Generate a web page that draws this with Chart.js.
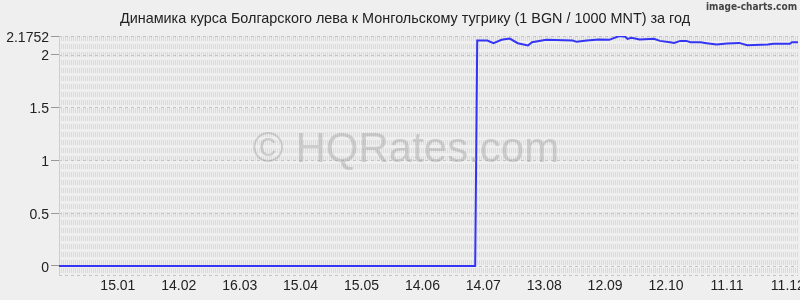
<!DOCTYPE html>
<html>
<head>
<meta charset="utf-8">
<script src="https://cdn.jsdelivr.net/npm/chart.js@4/dist/chart.umd.min.js"></script>
<style>
html,body{margin:0;padding:0;background:#efefef;}
#wrap{width:800px;height:300px;position:relative;}
</style>
</head>
<body>
<div id="wrap"><canvas id="c" width="800" height="300"></canvas></div>
<script>
// Title and tick labels
const titleText = "Динамика курса Болгарского лева к Монгольскому тугрику (1 BGN / 1000 MNT) за год";
const xTickDays = [29, 59, 89, 119, 149, 179, 209, 239, 269, 299, 329, 359];
const xTickLabels = ["15.01", "14.02", "16.03", "15.04", "15.05", "14.06", "14.07", "13.08", "12.09", "12.10", "11.11", "11.12"];
const yTickValues = [0, 0.5, 1, 1.5, 2, 2.1752];

// Series: day offset from 17.12 (start of period) and rate values
const days = [0, 100, 205, 206, 211, 214, 218, 222, 226, 231, 233, 240, 253, 255, 260, 266, 271, 276, 279, 280, 282, 286, 293, 296, 301, 303, 306, 309, 311, 316, 319, 324, 329, 335, 339, 349, 352, 360, 361, 364];
const rates = [0, 0, 0, 2.132, 2.132, 2.107, 2.139, 2.151, 2.107, 2.085, 2.116, 2.139, 2.132, 2.120, 2.132, 2.142, 2.139, 2.1752, 2.167, 2.148, 2.158, 2.142, 2.148, 2.129, 2.116, 2.110, 2.129, 2.129, 2.116, 2.116, 2.107, 2.094, 2.104, 2.110, 2.088, 2.094, 2.101, 2.101, 2.116, 2.116];

const FONT = "'Liberation Sans', Arial, sans-serif";

const bgPlugin = {
  id: 'bg',
  beforeDraw(chart) {
    const ctx = chart.ctx;
    ctx.save();
    ctx.fillStyle = '#efefef';
    ctx.fillRect(0, 0, chart.width, chart.height);
    ctx.restore();
  },
  beforeDatasetsDraw(chart) {
    const ctx = chart.ctx;
    const a = chart.chartArea;
    ctx.save();
    // dense vertical dashed texture
    ctx.strokeStyle = '#dadada';
    ctx.lineWidth = 1;
    ctx.setLineDash([5, 3]);
    ctx.beginPath();
    for (let x = Math.round(a.left) + 0.5; x < a.right; x += 2) {
      ctx.moveTo(x, a.top);
      ctx.lineTo(x, a.bottom - 3);
    }
    ctx.stroke();
    // dashed horizontal lines at y ticks
    ctx.strokeStyle = '#c4c4c4';
    ctx.setLineDash([3, 3]);
    ctx.beginPath();
    const ys = chart.scales.y;
    yTickValues.forEach(v => {
      const y = Math.round(ys.getPixelForValue(v)) + 0.5;
      ctx.moveTo(a.left, y);
      ctx.lineTo(a.right, y);
    });
    const yb = Math.round(a.bottom) - 0.5;
    ctx.moveTo(a.left, yb);
    ctx.lineTo(a.right, yb);
    ctx.stroke();
    // left border
    ctx.setLineDash([]);
    ctx.strokeStyle = '#cfcfcf';
    ctx.beginPath();
    ctx.moveTo(Math.round(a.left) + 0.5, a.top);
    ctx.lineTo(Math.round(a.left) + 0.5, a.bottom);
    ctx.stroke();
    ctx.restore();
  },
  afterDatasetsDraw(chart) {
    const ctx = chart.ctx;
    ctx.save();
    // watermark
    ctx.fillStyle = 'rgba(150,150,150,0.38)';
    ctx.font = "42px " + FONT;
    ctx.textAlign = 'center';
    ctx.textBaseline = 'middle';
    ctx.fillText("© HQRates.com", 406, 150);
    // title
    ctx.fillStyle = '#222';
    ctx.font = "14.4px " + FONT;
    ctx.fillText(titleText, 405, 19);
    // brand
    ctx.fillStyle = '#444';
    ctx.font = "bold 10px 'Liberation Sans Narrow', 'DejaVu Sans Condensed', sans-serif";
    ctx.textAlign = 'right';
    ctx.fillText("image-charts.com", 797, 7);
    ctx.restore();
  }
};

new Chart(document.getElementById('c'), {
  type: 'line',
  data: {
    datasets: [{
      data: days.map((d, i) => ({ x: d, y: rates[i] })),
      borderColor: '#3434f4',
      borderWidth: 2,
      pointRadius: 0,
      tension: 0,
      fill: false
    }]
  },
  options: {
    responsive: false,
    animation: false,
    layout: { padding: { top: 36, left: 0, right: 2, bottom: 0 } },
    plugins: { legend: { display: false }, title: { display: false }, tooltip: { enabled: false } },
    scales: {
      x: {
        type: 'linear',
        min: 0,
        max: 364,
        afterBuildTicks(scale) { scale.ticks = xTickDays.map(v => ({ value: v })); },
        afterFit(scale) { scale.height = 24; scale.paddingLeft = 0; scale.paddingRight = 0; },
        ticks: {
          autoSkip: false,
          maxRotation: 0,
          padding: 2,
          color: '#222',
          font: { family: FONT, size: 14 },
          callback(v) { const i = xTickDays.indexOf(v); return i >= 0 ? xTickLabels[i] : ''; }
        },
        grid: { display: false, drawTicks: false, tickLength: 0 },
        border: { display: false }
      },
      y: {
        type: 'linear',
        min: -0.095,
        max: 2.1752,
        afterBuildTicks(scale) { scale.ticks = yTickValues.map(v => ({ value: v })); },
        afterFit(scale) { scale.width = 59; scale.paddingTop = 0; scale.paddingBottom = 0; },
        ticks: {
          padding: 2,
          labelOffset: 2,
          color: '#222',
          font: { family: FONT, size: 14 },
          callback(v) { return String(v); }
        },
        grid: { drawOnChartArea: false, drawTicks: true, tickLength: 8, tickColor: '#999', color: '#999' },
        border: { display: false }
      }
    }
  },
  plugins: [bgPlugin]
});
</script>
</body>
</html>
